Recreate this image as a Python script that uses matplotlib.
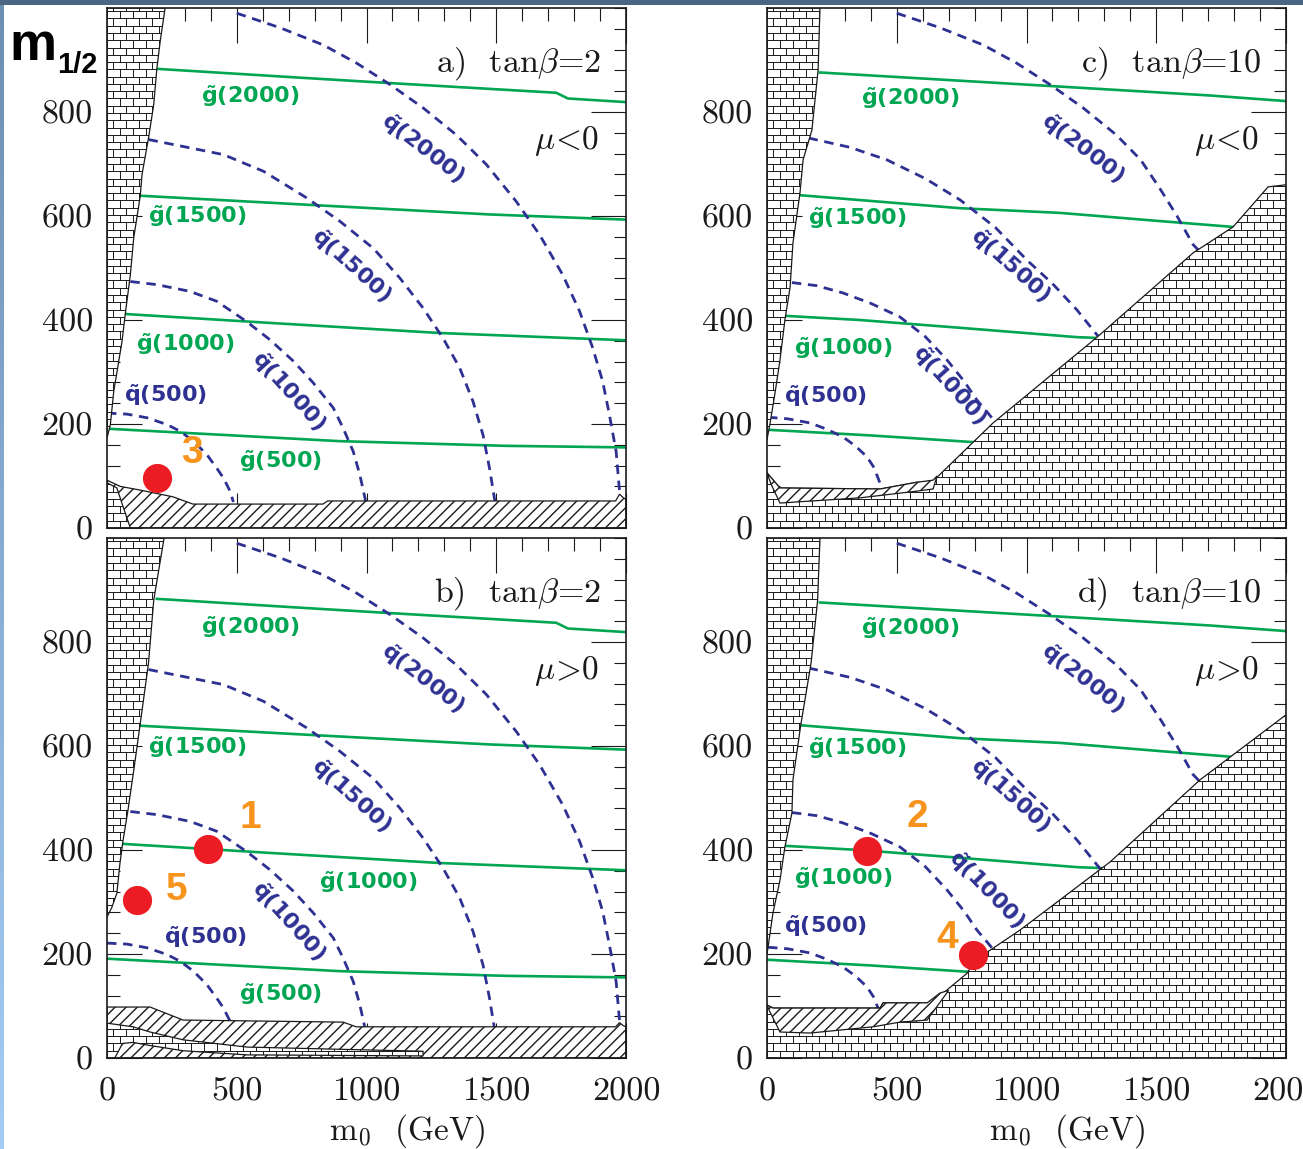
import numpy as np
import matplotlib
matplotlib.use('Agg')
import matplotlib.pyplot as plt
from matplotlib.patches import Polygon, Rectangle
from matplotlib.collections import LineCollection
from matplotlib.colors import LinearSegmentedColormap

GREEN = '#00a651'
BLUE = '#2e3192'
RED = '#ec1c24'
ORANGE = '#f7941d'
INK = '#1a1a1a'

# ---- gluino / squark contours, tan(beta) = 2 (panels a, b) ----
g2000_t2_x = [192, 744, 1077, 1731, 1776, 2000]
g2000_t2_y = [883, 866, 856, 837, 826, 819]
g1500_t2_x = [128, 833, 1474, 2000]
g1500_t2_y = [639, 620, 603, 593]
g1000_t2_x = [55, 641, 1282, 2000]
g1000_t2_y = [412, 394, 375, 361]
g500_t2_x = [0, 897, 1538, 2000]
g500_t2_y = [191, 167, 158, 155]

q500_t2_x = [0, 77, 154, 231, 282, 333, 385, 423, 449, 474, 487]
q500_t2_y = [221, 219, 212, 199, 186, 167, 141, 115, 96, 71, 50]
q1000_t2_x = [90, 192, 320, 423, 538, 628, 718, 795, 872, 910, 949, 974, 994, 1000]
q1000_t2_y = [474, 468, 455, 436, 397, 362, 321, 279, 231, 192, 147, 103, 58, 44]
q1500_t2_x = [160, 320, 449, 603, 769, 897, 1026, 1128, 1218, 1295, 1359, 1410,
              1449, 1474, 1494, 1498]
q1500_t2_y = [747, 731, 718, 686, 635, 590, 538, 481, 423, 365, 308, 244,
              179, 115, 54, 44]
q2000_t2_x = [500, 667, 833, 962, 1090, 1218, 1346, 1462, 1577, 1667, 1756, 1821,
              1872, 1910, 1936, 1962, 1974, 1981]
q2000_t2_y = [990, 962, 929, 894, 853, 808, 756, 699, 628, 564, 487, 417,
              346, 282, 218, 147, 77, 50]

# ---- tan(beta) = 10 (panels c, d) ----
g2000_t10_x = [204, 1091, 1700, 2000]
g2000_t10_y = [876, 850, 832, 821]
g1500_t10_x = [127, 744, 1129, 1520, 1796, 1900]
g1500_t10_y = [640, 615, 606, 590, 579, 575]
g1000_t10_x = [69, 358, 744, 1195, 1300]
g1000_t10_y = [408, 400, 385, 367, 365]
g500_t10_x = [0, 400, 800]
g500_t10_y = [189, 178, 165]

q500_t10_x = [4, 80, 166, 230, 293, 340, 385, 410, 428, 440]
q500_t10_y = [213, 210, 202, 190, 175, 158, 137, 118, 96, 80]
q1000_t10_x = [96, 192, 293, 400, 512, 610, 694, 760, 809, 850, 886, 920]
q1000_t10_y = [472, 466, 452, 432, 406, 368, 323, 282, 246, 222, 200, 170]
q1500_t10_x = [160, 320, 462, 610, 744, 880, 1002, 1100, 1195, 1290]
q1500_t10_y = [750, 732, 708, 672, 631, 578, 515, 470, 419, 360]
q2000_t10_x = [500, 667, 833, 962, 1090, 1218, 1346, 1440, 1515, 1580, 1642, 1700]
q2000_t10_y = [990, 962, 929, 894, 853, 808, 756, 708, 652, 600, 545, 515]

# ---- excluded regions (brick = theory, hatch = experiment) ----
a_brick_left_x = [0, 224, 205, 192, 180, 160, 135, 128, 103, 90, 70, 58, 26, 13, 0]
a_brick_left_y = [1000, 1000, 936, 883, 814, 750, 680, 638, 558, 487, 410, 359, 263, 199, 173]
a_hatch_x = [0, 51, 127, 254, 331, 832, 850, 1960, 1975, 1990, 2000, 2000, 0]
a_hatch_y = [92, 80, 73, 60, 46, 46, 52, 52, 65, 58, 55, 0, 0]
a_brick_low_x = [0, 38, 64, 90, 0]
a_brick_low_y = [87, 77, 38, 0, 0]

b_brick_left_x = [0, 220, 200, 180, 160, 130, 105, 81, 62, 50, 38, 19, 0]
b_brick_left_y = [1000, 1000, 940, 880, 760, 650, 560, 477, 419, 375, 317, 290, 271]
b_hatch_x = [0, 166, 293, 910, 960, 1960, 1975, 1990, 2000, 2000, 0]
b_hatch_y = [98, 98, 73, 69, 60, 60, 68, 62, 60, 0, 0]
b_brick_low_x = [0, 0, 100, 166, 293, 539, 1218, 1218, 539, 293, 166, 100, 60, 30]
b_brick_low_y = [0, 67, 60, 50, 35, 21, 13, 4, 6, 14, 24, 30, 28, 0]

c_brick_left_x = [0, 204, 197, 173, 139, 127, 100, 89, 69, 50, 31, 12, 0]
c_brick_left_y = [1000, 1000, 881, 765, 708, 644, 548, 463, 400, 323, 260, 202, 170]
c_brick_main_x = [0, 0, 50, 436, 578, 640, 660, 871, 1272, 1642, 1796, 1931, 2000, 2000]
c_brick_main_y = [0, 106, 77, 75, 88, 88, 100, 202, 367, 529, 579, 656, 660, 0]
c_hatch_x = [0, 50, 436, 578, 640, 655, 640, 563, 358, 50, 15]
c_hatch_y = [106, 77, 75, 88, 92, 100, 75, 70, 58, 48, 85]

d_brick_left_x = [0, 204, 195, 170, 130, 100, 96, 69, 50, 23, 4, 0]
d_brick_left_y = [1000, 1000, 880, 760, 640, 535, 471, 406, 342, 279, 213, 200]
d_brick_main_x = [0, 0, 23, 436, 447, 617, 640, 694, 771, 802, 975, 1322, 1669, 2000, 2000]
d_brick_main_y = [0, 102, 96, 96, 106, 106, 106, 131, 163, 188, 246, 377, 535, 660, 0]
d_hatch_x = [0, 23, 436, 447, 617, 667, 700, 617, 513, 409, 166, 50, 10]
d_hatch_y = [102, 96, 96, 106, 106, 125, 130, 73, 69, 60, 48, 50, 90]

# ---- benchmark points ----
a_points_x = [192]
a_points_y = [96]
a_points_lab = ['3']
b_points_x = [389, 116]
b_points_y = [402, 304]
b_points_lab = ['1', '5']
d_points_x = [385, 794]
d_points_y = [398, 198]
d_points_lab = ['2', '4']

x_ticks = [0, 500, 1000, 1500, 2000]
y_ticks = [0, 200, 400, 600, 800]


def add_bricks(ax, xs, ys, z):
    poly = Polygon(np.column_stack([xs, ys]), closed=True, fc='white',
                   ec=INK, lw=0.9, zorder=z)
    ax.add_patch(poly)
    bw, bh = 50, 14
    segs = []
    for r, y0 in enumerate(np.arange(0, 1001, bh)):
        segs.append([(0, y0), (2000, y0)])
        for x in np.arange(-bw + (bw / 2) * (r % 2), 2000 + bw, bw):
            segs.append([(x, y0), (x, y0 + bh)])
    lc = LineCollection(segs, colors=INK, linewidths=0.7, zorder=z)
    ax.add_collection(lc)
    lc.set_clip_path(poly)


def add_hatch(ax, xs, ys, z):
    ax.add_patch(Polygon(np.column_stack([xs, ys]), closed=True, fc='white',
                         ec=INK, lw=0.9, hatch='///', zorder=z))


def gl(ax, xs, ys):
    ax.plot(xs, ys, color=GREEN, lw=1.9, zorder=2)


def sq(ax, xs, ys):
    ax.plot(xs, ys, color=BLUE, lw=2.0, dashes=(3.4, 2.4), zorder=2)


def glabel(ax, x, y, mass):
    ax.text(x, y, r'$\mathbf{\tilde{g}}$(' + mass + ')', color=GREEN,
            fontsize=16, fontweight='bold', family='DejaVu Sans',
            math_fontfamily='dejavusans', ha='center', va='center', zorder=6)


def qlabel(ax, x, y, mass, rot=0):
    ax.text(x, y, r'$\mathbf{\tilde{q}}$(' + mass + ')', color=BLUE,
            fontsize=16, fontweight='bold', family='DejaVu Sans',
            math_fontfamily='dejavusans', ha='center', va='center',
            rotation=rot, rotation_mode='anchor', zorder=6)


def points(ax, xs, ys, labs, offs):
    ax.plot(xs, ys, 'o', color=RED, ms=21, mec='none', zorder=7)
    for x, y, lab, (dx, dy) in zip(xs, ys, labs, offs):
        ax.text(x + dx, y + dy, lab, color=ORANGE, fontsize=28,
                fontweight='bold', family='Liberation Sans',
                ha='center', va='center', zorder=7)


def style(ax, bottom_labels):
    ax.set_xlim(0, 2000)
    ax.set_ylim(0, 1000)
    ax.set_xticks(x_ticks)
    ax.set_xticks(np.arange(0, 2001, 100), minor=True)
    ax.set_yticks(y_ticks)
    ax.set_yticks(np.arange(0, 1001, 40), minor=True)
    ax.set_yticklabels([str(v) for v in y_ticks])
    ax.set_xticklabels([str(v) for v in x_ticks])
    ax.tick_params(which='both', direction='in', top=True, right=True,
                   width=0.8, color=INK)
    ax.tick_params(which='major', length=25)
    ax.tick_params(which='minor', length=9)
    ax.tick_params(axis='y', pad=10)
    ax.tick_params(axis='x', pad=14)
    ax.tick_params(labelsize=24.5, labelfontfamily='cmr10', labelcolor=INK,
                   labelbottom=bottom_labels)
    for s in ax.spines.values():
        s.set_linewidth(1.2)
        s.set_color(INK)
        s.set_zorder(8)


def corner_text(ax, lab, tanb, sign):
    ax.text(1905, 894, lab + r')  tan$\beta$=' + tanb, fontsize=24.5,
            family='cmr10', math_fontfamily='cm', ha='right', va='center',
            color=INK, zorder=6)
    ax.text(1897, 744, r'$\mu\!' + sign + r'\!0$', fontsize=24,
            math_fontfamily='cm', ha='right', va='center', color=INK, zorder=6)


fig = plt.figure(figsize=(13.03, 11.49), dpi=100)
W, H = 1303.0, 1149.0
fig.patches.append(Rectangle((0, 1 - 5 / H), 1, 5 / H, transform=fig.transFigure,
                             fc='#4b6682', ec='none', zorder=0))
strip = fig.add_axes([0, 0, 4 / W, 1 - 5 / H])
strip.imshow(np.linspace(0, 1, 200).reshape(-1, 1), aspect='auto',
             cmap=LinearSegmentedColormap.from_list('s', ['#6d8fb5', '#a4ccf4']))
strip.axis('off')

aw, ah = 519 / W, 520 / H
ax_a = fig.add_axes([107 / W, 1 - 528 / H, aw, ah])
ax_b = fig.add_axes([107 / W, 1 - 1058 / H, aw, ah])
ax_c = fig.add_axes([767 / W, 1 - 528 / H, aw, ah])
ax_d = fig.add_axes([767 / W, 1 - 1058 / H, aw, ah])

t2_gl = [(g2000_t2_x, g2000_t2_y), (g1500_t2_x, g1500_t2_y),
         (g1000_t2_x, g1000_t2_y), (g500_t2_x, g500_t2_y)]
t2_sq = [(q500_t2_x, q500_t2_y), (q1000_t2_x, q1000_t2_y),
         (q1500_t2_x, q1500_t2_y), (q2000_t2_x, q2000_t2_y)]
t10_gl = [(g2000_t10_x, g2000_t10_y), (g1500_t10_x, g1500_t10_y),
          (g1000_t10_x, g1000_t10_y), (g500_t10_x, g500_t10_y)]
t10_sq = [(q500_t10_x, q500_t10_y), (q1000_t10_x, q1000_t10_y),
          (q1500_t10_x, q1500_t10_y), (q2000_t10_x, q2000_t10_y)]

# panel a
ax = ax_a
for xs, ys in t2_gl:
    gl(ax, xs, ys)
for xs, ys in t2_sq:
    sq(ax, xs, ys)
add_hatch(ax, a_hatch_x, a_hatch_y, 3)
add_bricks(ax, a_brick_left_x, a_brick_left_y, 4)
add_bricks(ax, a_brick_low_x, a_brick_low_y, 4)
glabel(ax, 551, 830, '2000'); glabel(ax, 346, 599, '1500')
glabel(ax, 301, 353, '1000'); glabel(ax, 667, 128, '500')
qlabel(ax, 224, 256, '500'); qlabel(ax, 699, 263, '1000', -48)
qlabel(ax, 942, 506, '1500', -42); qlabel(ax, 1218, 731, '2000', -38)
points(ax, a_points_x, a_points_y, a_points_lab, [(135, 48)])
corner_text(ax, 'a', '2', '<')
style(ax, False)

# panel b
ax = ax_b
for xs, ys in t2_gl:
    gl(ax, xs, ys)
for xs, ys in t2_sq:
    sq(ax, xs, ys)
add_hatch(ax, b_hatch_x, b_hatch_y, 3)
add_bricks(ax, b_brick_left_x, b_brick_left_y, 4)
add_bricks(ax, b_brick_low_x, b_brick_low_y, 4)
glabel(ax, 551, 828, '2000'); glabel(ax, 346, 597, '1500')
glabel(ax, 1006, 338, '1000'); glabel(ax, 667, 123, '500')
qlabel(ax, 378, 233, '500'); qlabel(ax, 699, 263, '1000', -48)
qlabel(ax, 942, 506, '1500', -42); qlabel(ax, 1218, 731, '2000', -38)
points(ax, b_points_x, b_points_y, b_points_lab, [(162, 60), (154, 19)])
corner_text(ax, 'b', '2', '>')
style(ax, True)

# panel c
ax = ax_c
for xs, ys in t10_gl:
    gl(ax, xs, ys)
for xs, ys in t10_sq:
    sq(ax, xs, ys)
add_bricks(ax, c_brick_main_x, c_brick_main_y, 3)
add_hatch(ax, c_hatch_x, c_hatch_y, 4)
add_bricks(ax, c_brick_left_x, c_brick_left_y, 4)
glabel(ax, 553, 826, '2000'); glabel(ax, 347, 596, '1500')
glabel(ax, 293, 346, '1000')
qlabel(ax, 224, 254, '500'); qlabel(ax, 705, 275, '1000', -48)
qlabel(ax, 936, 506, '1500', -42); qlabel(ax, 1218, 731, '2000', -38)
corner_text(ax, 'c', '10', '<')
style(ax, False)

# panel d
ax = ax_d
for xs, ys in t10_gl:
    gl(ax, xs, ys)
for xs, ys in t10_sq:
    sq(ax, xs, ys)
add_bricks(ax, d_brick_main_x, d_brick_main_y, 3)
add_hatch(ax, d_hatch_x, d_hatch_y, 4)
add_bricks(ax, d_brick_left_x, d_brick_left_y, 4)
glabel(ax, 553, 826, '2000'); glabel(ax, 347, 596, '1500')
glabel(ax, 293, 346, '1000')
qlabel(ax, 224, 254, '500'); qlabel(ax, 845, 325, '1000', -46)
qlabel(ax, 936, 506, '1500', -42); qlabel(ax, 1218, 731, '2000', -38)
points(ax, d_points_x, d_points_y, d_points_lab, [(193, 65), (-100, 33)])
corner_text(ax, 'd', '10', '>')
style(ax, True)

# axis titles
for cx in (407 / W, 1067 / W):
    fig.text(cx, 1 - 1131 / H, r'm$_0$  (GeV)', fontsize=24,
             family='cmr10', math_fontfamily='cm', ha='center', va='center',
             color=INK)
fig.text(9 / W, 1 - 60 / H, 'm', fontsize=38, fontweight='bold',
         family='Liberation Sans', va='baseline', ha='left', color='black')
fig.text(57 / W, 1 - 73 / H, '1/2', fontsize=21, fontweight='bold',
         family='Liberation Sans', va='baseline', ha='left', color='black')

fig.savefig('out.png', dpi=100, facecolor='white')
